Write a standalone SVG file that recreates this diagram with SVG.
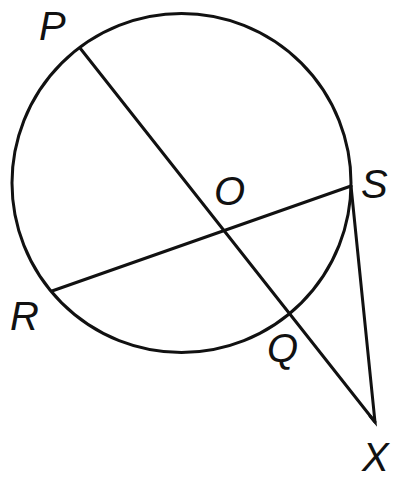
<svg xmlns="http://www.w3.org/2000/svg" width="399" height="481" viewBox="0 0 399 481">
<style>
.s{fill:none;stroke:#111;stroke-width:3;stroke-linecap:round;stroke-linejoin:miter}
.l{font-family:"Liberation Sans",Arial,sans-serif;font-style:italic;font-size:40px;fill:#111}
</style>
<rect width="399" height="481" fill="#fff"/>
<g id="circle"><circle class="s" cx="181.5" cy="183" r="169.5"/></g>
<g id="connectors">
<line class="s" x1="80" y1="48" x2="375" y2="422"/>
<line class="s" x1="52" y1="291" x2="351" y2="186"/>
<polyline class="s" points="351,186 375,422 370,416"/>
</g>
<g id="P"><text class="l" x="39" y="40">P</text></g>
<g id="O"><text class="l" x="214" y="205">O</text></g>
<g id="S"><text class="l" x="361" y="198">S</text></g>
<g id="R"><text class="l" x="10" y="330">R</text></g>
<g id="Q"><text class="l" x="267" y="362">Q</text></g>
<g id="X"><text class="l" x="362" y="471">X</text></g>
</svg>
